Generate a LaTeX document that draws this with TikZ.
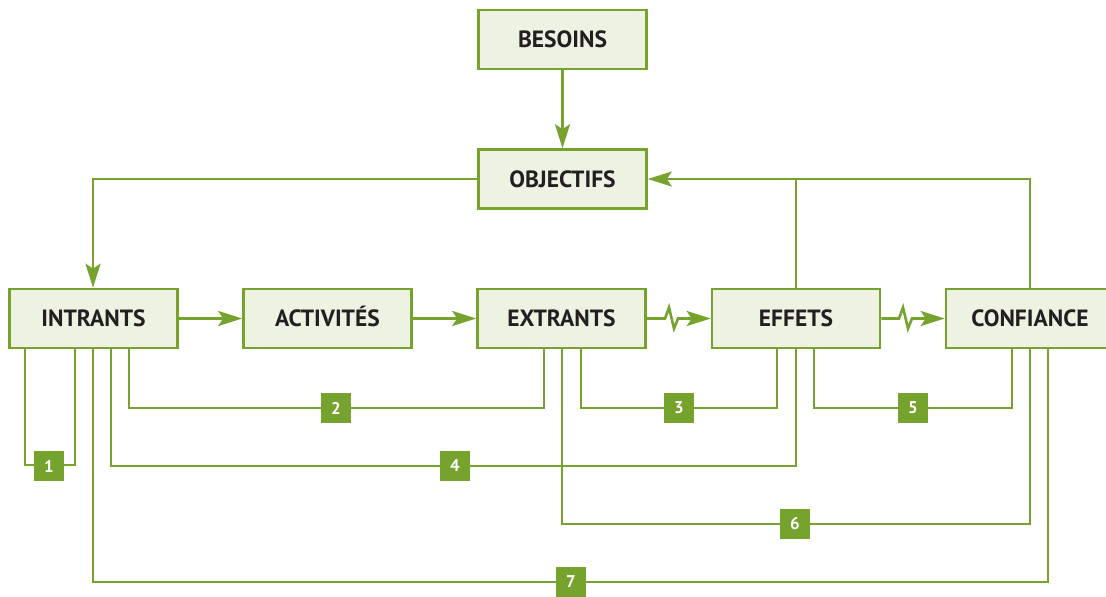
\documentclass[tikz,border=0pt]{standalone}
\usepackage{fontspec}
\setmainfont{PT Sans}
\usetikzlibrary{arrows.meta}
\definecolor{lgreen}{HTML}{76A22E}
\definecolor{boxfill}{HTML}{EEF2E3}
\definecolor{txt}{HTML}{231F20}
\tikzset{
  box/.style={draw=lgreen, line width=2.6pt, fill=boxfill, minimum width=168pt, minimum height=59pt, inner sep=0pt, text=txt, text height=16.5pt, text depth=0pt, font=\fontsize{23.5}{26}\selectfont\bfseries},
  conn/.style={draw=lgreen, line width=2.6pt},
  arr/.style={conn, -{Stealth[length=24pt,width=15pt,inset=5pt]}},
  badge/.style={fill=lgreen, draw=none, minimum width=30pt, minimum height=30pt, inner sep=0pt, text=white, font=\fontsize{17}{19}\selectfont\bfseries},
}
\begin{document}
\begin{tikzpicture}[x=1pt,y=-1pt]
\clip (0,0) rectangle (1106,597);
\fill[white] (0,0) rectangle (1106,597);
% boxes
\node[box] (bes) at (562.5,39.5) {BESOINS};
\node[box] (obj) at (562.5,179) {OBJECTIFS};
\node[box] (int) at (93.5,318.5) {INTRANTS};
\node[box] (act) at (327.5,318.5) {ACTIVITÉS};
\node[box] (ext) at (561.5,318.5) {EXTRANTS};
\node[box] (eff) at (796,318.5) {EFFETS};
\node[box] (con) at (1030,318.5) {CONFIANCE};
% top connectors
\draw[arr] (bes.south) -- (obj.north);
\draw[arr] (obj.west) -- (93,179) -- (int.north -| 93,0);
\draw[conn] (eff.north) -- (796,179);
\draw[arr] (con.north -| 1030,0) -- (1030,179) -- (obj.east);
% horizontal chain
\draw[arr] (int.east) -- (act.west);
\draw[arr] (act.east) -- (ext.west);
\coordinate (z1) at (665,318.5);
\draw[arr] (ext.east) -- (z1) -- ++(4,-11) -- ++(5,21) -- ++(4,-10) -- (eff.west);
\coordinate (z2) at (899,318.5);
\draw[arr] (eff.east) -- (z2) -- ++(4,-11) -- ++(5,21) -- ++(4,-10) -- (con.west);
% bottom loops
\draw[conn] (int.south -| 25,0) -- (25,465) -- (75,465) -- (int.south -| 75,0);
\node[badge] (b1) at (49,466) {1};
\draw[conn] (int.south -| 129,0) -- (129,408) -- (544,408) -- (ext.south -| 544,0);
\node[badge] (b2) at (336,408) {2};
\draw[conn] (ext.south -| 581,0) -- (581,408) -- (777,408) -- (eff.south -| 777,0);
\node[badge] (b3) at (679,408) {3};
\draw[conn] (int.south -| 111,0) -- (111,466) -- (796,466) -- (eff.south);
\node[badge] (b4) at (455,466) {4};
\draw[conn] (eff.south -| 814,0) -- (814,408) -- (1012,408) -- (con.south -| 1012,0);
\node[badge] (b5) at (913,408) {5};
\draw[conn] (ext.south -| 562,0) -- (562,524) -- (1030,524) -- (con.south -| 1030,0);
\node[badge] (b6) at (795,524) {6};
\draw[conn] (int.south -| 93,0) -- (93,582) -- (1048,582) -- (con.south -| 1048,0);
\node[badge] (b7) at (571,582) {7};
\end{tikzpicture}
\end{document}
